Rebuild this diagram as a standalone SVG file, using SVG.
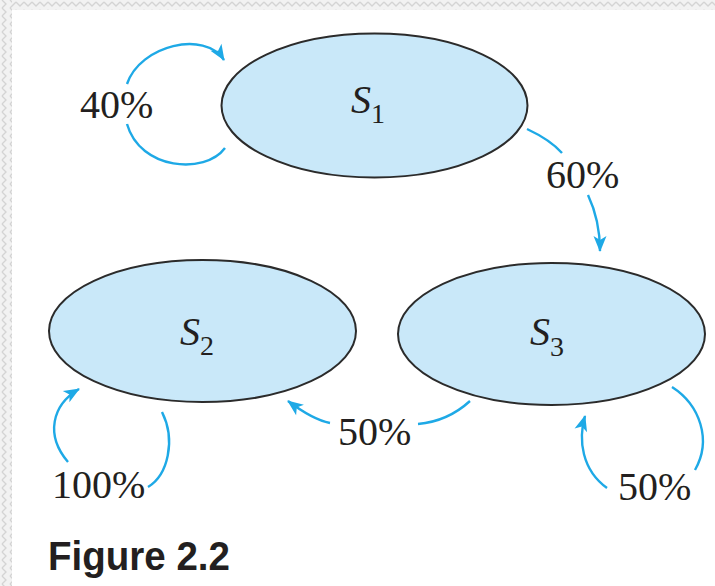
<svg xmlns="http://www.w3.org/2000/svg" width="715" height="586" viewBox="0 0 715 586">
<defs>
<style>
.node{fill:#c9e8f9;stroke:#2b2b2b;stroke-width:2}
.lbl{font-family:"Liberation Serif",serif;font-size:40px;fill:#231f20}
.s{font-family:"Liberation Serif",serif;font-style:italic;font-size:40px;fill:#231f20}
.sub{font-family:"Liberation Serif",serif;font-size:28px;fill:#231f20;font-style:normal}
.arc{fill:none;stroke:#1ea9e6;stroke-width:2.4}
</style>
<marker id="ah" markerUnits="userSpaceOnUse" markerWidth="20" markerHeight="20" refX="0" refY="0" orient="auto" overflow="visible">
<path d="M-15,-6.5 L1,0 L-15,6.5 L-11,0 Z" fill="#1ea9e6"/>
</marker>
<pattern id="zz" width="8" height="8" patternUnits="userSpaceOnUse">
<rect width="8" height="8" fill="#f2f2f2"/>
<polyline points="0,2 4,6 8,2" fill="none" stroke="#d4d4d4" stroke-width="1.3"/>
</pattern>
<pattern id="zzv" width="8" height="8" patternUnits="userSpaceOnUse">
<rect width="8" height="8" fill="#f2f2f2"/>
<polyline points="2,0 6,4 2,8" fill="none" stroke="#d4d4d4" stroke-width="1.3"/>
</pattern>
</defs>
<rect width="715" height="586" fill="#ffffff"/>
<rect x="0" y="0" width="715" height="10" fill="url(#zz)"/>
<rect x="0" y="0" width="12" height="586" fill="url(#zzv)"/>

<g id="connectors">
<path class="arc" d="M127,84 C140,45 205,30 224,60" marker-end="url(#ah)"/>
<path class="arc" d="M127,124 C140,170 205,175 225,148"/>
<path class="arc" d="M527,129 C542,136 554,144 562,153"/>
<path class="arc" d="M588,195 C596,212 600,230 600,251" marker-end="url(#ah)"/>
<path class="arc" d="M68,462 C45,435 52,405 79,389" marker-end="url(#ah)"/>
<path class="arc" d="M162,412 C176,440 168,475 148,487"/>
<path class="arc" d="M330,423 C315,420 300,410 288,401" marker-end="url(#ah)"/>
<path class="arc" d="M418,424 C440,422 458,412 470,401"/>
<path class="arc" d="M607,488 C582,470 578,440 585,416" marker-end="url(#ah)"/>
<path class="arc" d="M672,387 C700,405 712,440 695,470"/>
</g>

<g id="S1">
<ellipse class="node" cx="374.5" cy="105.5" rx="153" ry="72"/>
<text class="s" x="351" y="113">S<tspan class="sub" dx="0" dy="10">1</tspan></text>
</g>
<g id="S2">
<ellipse class="node" cx="202.5" cy="331" rx="153.5" ry="71"/>
<text class="s" x="180" y="345">S<tspan class="sub" dx="0" dy="10">2</tspan></text>
</g>
<g id="S3">
<ellipse class="node" cx="551.5" cy="334" rx="153.5" ry="71"/>
<text class="s" x="530" y="345">S<tspan class="sub" dx="0" dy="11">3</tspan></text>
</g>

<g id="labels">
<text class="lbl" x="80" y="118">40%</text>
<text class="lbl" x="546" y="188">60%</text>
<text class="lbl" x="52" y="498">100%</text>
<text class="lbl" x="338" y="445">50%</text>
<text class="lbl" x="618" y="500">50%</text>
</g>
<text x="48" y="570" font-family="Liberation Sans,Arial,sans-serif" font-weight="bold" font-size="40" fill="#231f20" textLength="182" lengthAdjust="spacingAndGlyphs">Figure 2.2</text>
</svg>
